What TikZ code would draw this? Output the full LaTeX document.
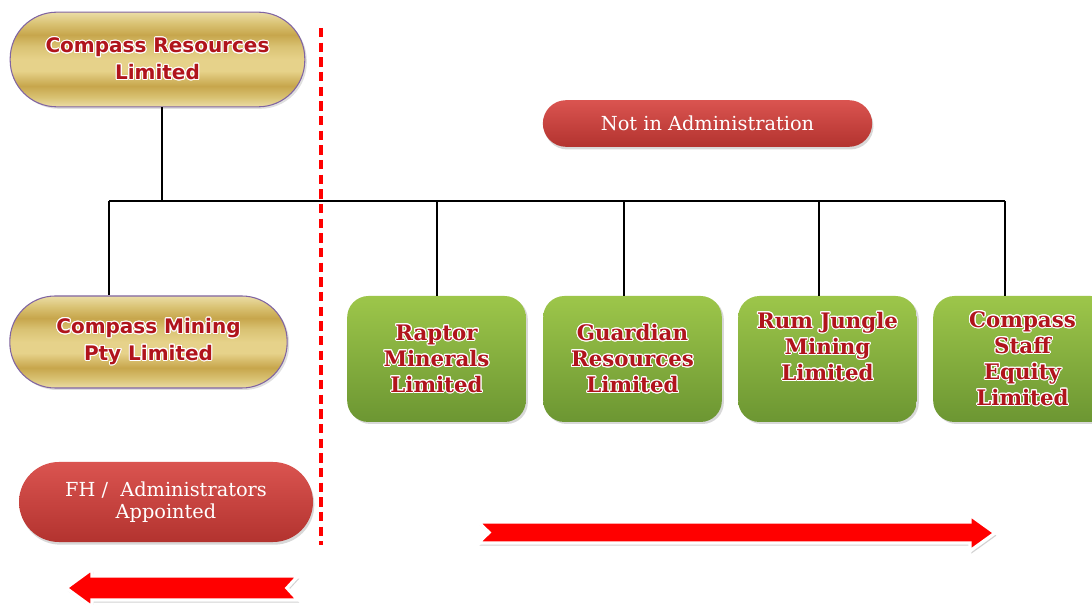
\documentclass[tikz,border=0pt]{standalone}
\usepackage{fontspec}
\usepackage{contour}
\usetikzlibrary{shadows}
\newfontfamily\goldf{DejaVu Sans}
\newfontfamily\greenf{DejaVu Serif}
\newfontfamily\redf{DejaVu Serif}
\definecolor{txtred}{HTML}{B0141C}
\definecolor{goldborder}{HTML}{8064A2}
\definecolor{gL}{HTML}{EBDDA6}
\definecolor{gM}{HTML}{D9C273}
\definecolor{gD}{HTML}{C7A64C}
\definecolor{gX}{HTML}{E6D28A}
\definecolor{grTop}{HTML}{9DC64A}
\definecolor{grBot}{HTML}{6C9632}
\definecolor{rpTop}{HTML}{DA5450}
\definecolor{rpBot}{HTML}{B3332F}
\definecolor{arrred}{HTML}{FF0000}
\pgfdeclareverticalshading{goldsh}{100bp}{color(0bp)=(gL); color(25bp)=(gL); color(30bp)=(gM); color(36bp)=(gD); color(44bp)=(gX); color(50bp)=(gX); color(57bp)=(gM); color(63bp)=(gD); color(69bp)=(gM); color(75bp)=(gL); color(100bp)=(gL)}
\contourlength{0.8pt}
\newcommand\ct[1]{\contour{white}{#1}}
\tikzset{
  gold/.style={draw=goldborder, line width=0.8pt, shade, shading=goldsh, align=center,
    font=\goldf\bfseries\fontsize{15}{20}\selectfont, text=txtred,
    drop shadow={opacity=0.25, shadow xshift=1.5pt, shadow yshift=-1.5pt}},
  greenbox/.style={rounded corners=16pt, minimum width=134pt, minimum height=94.5pt,
    top color=grTop, bottom color=grBot, draw=none, align=center,
    font=\greenf\bfseries\fontsize{16}{19.5}\selectfont, text=txtred,
    drop shadow={opacity=0.3, shadow xshift=1.5pt, shadow yshift=-1.5pt}},
  redpill/.style={top color=rpTop, bottom color=rpBot, draw=none, text=white, align=center,
    font=\redf\fontsize{14.5}{17}\selectfont,
    drop shadow={opacity=0.3, shadow xshift=1pt, shadow yshift=-2pt}},
  conn/.style={black, line width=1.1pt},
  dashsep/.style={arrred, line width=3pt, dash pattern=on 7pt off 4pt},
  bigarrow/.style={fill=arrred, draw=white, line width=2.5pt, line join=miter,
    drop shadow={opacity=0.35, shadow xshift=1pt, shadow yshift=-2pt}}
}
\begin{document}
\begin{tikzpicture}[x=0.75pt,y=-0.75pt]
\clip (0,0) rectangle (1092,605);
\useasboundingbox (0,0) rectangle (1092,605);
\fill[white] (0,0) rectangle (1092,605);

% nodes
\node[gold, minimum width=221pt, minimum height=71pt, rounded corners=35pt] (cr) at (157.5,59.5)
  {\ct{Compass Resources}\\\ct{Limited}};
\node[gold, minimum width=208pt, minimum height=69pt, rounded corners=34pt] (cm) at (148.5,342)
  {\ct{Compass Mining}\\\ct{Pty Limited}};
\node[redpill, minimum width=247pt, minimum height=35pt, rounded corners=17.5pt] (nia) at (707.5,123.5)
  {Not in Administration};
\node[redpill, minimum width=220.5pt, minimum height=60pt, rounded corners=30pt] (fh) at (166,502)
  {FH /~ Administrators\\Appointed};
\node[greenbox] (g1) at (436.5,359) {\ct{Raptor}\\\ct{Minerals}\\\ct{Limited}};
\node[greenbox] (g2) at (632.5,359) {\ct{Guardian}\\\ct{Resources}\\\ct{Limited}};
\node[greenbox] (g3) at (827.5,359) {\ct{Rum Jungle}\\\ct{Mining}\\\ct{Limited}\\\mbox{}};
\node[greenbox] (g4) at (1022.5,359) {\ct{Compass}\\\ct{Staff}\\\ct{Equity}\\\ct{Limited}};

% bus
\coordinate (bt) at (162,201);
\coordinate (bl) at (109,201);
\coordinate (br) at (1005,201);
\coordinate (b1) at (437,201);
\coordinate (b2) at (624,201);
\coordinate (b3) at (819,201);
\draw[conn] (bt |- cr.south) -- (bt);
\draw[conn] (bl) -- (br);
\draw[conn] (bl) -- (bl |- cm.north);
\draw[conn] (b1) -- (b1 |- g1.north);
\draw[conn] (b2) -- (b2 |- g2.north);
\draw[conn] (b3) -- (b3 |- g3.north);
\draw[conn] (br) -- (br |- g4.north);

% separator
\coordinate (dt) at (321,28);
\coordinate (db) at (321,545);
\draw[dashsep] (dt) -- (db);

% arrows
\path[bigarrow] (478,522) -- (970,522) -- (970,515) -- (995,533) -- (970,551) -- (970,543)
  -- (478,543) -- (489,532.5) -- cycle;
\path[bigarrow] (66,588) -- (92,569) -- (92,576) -- (298,576) -- (287,588) -- (298,600)
  -- (92,600) -- (92,607) -- cycle;
\end{tikzpicture}
\end{document}
